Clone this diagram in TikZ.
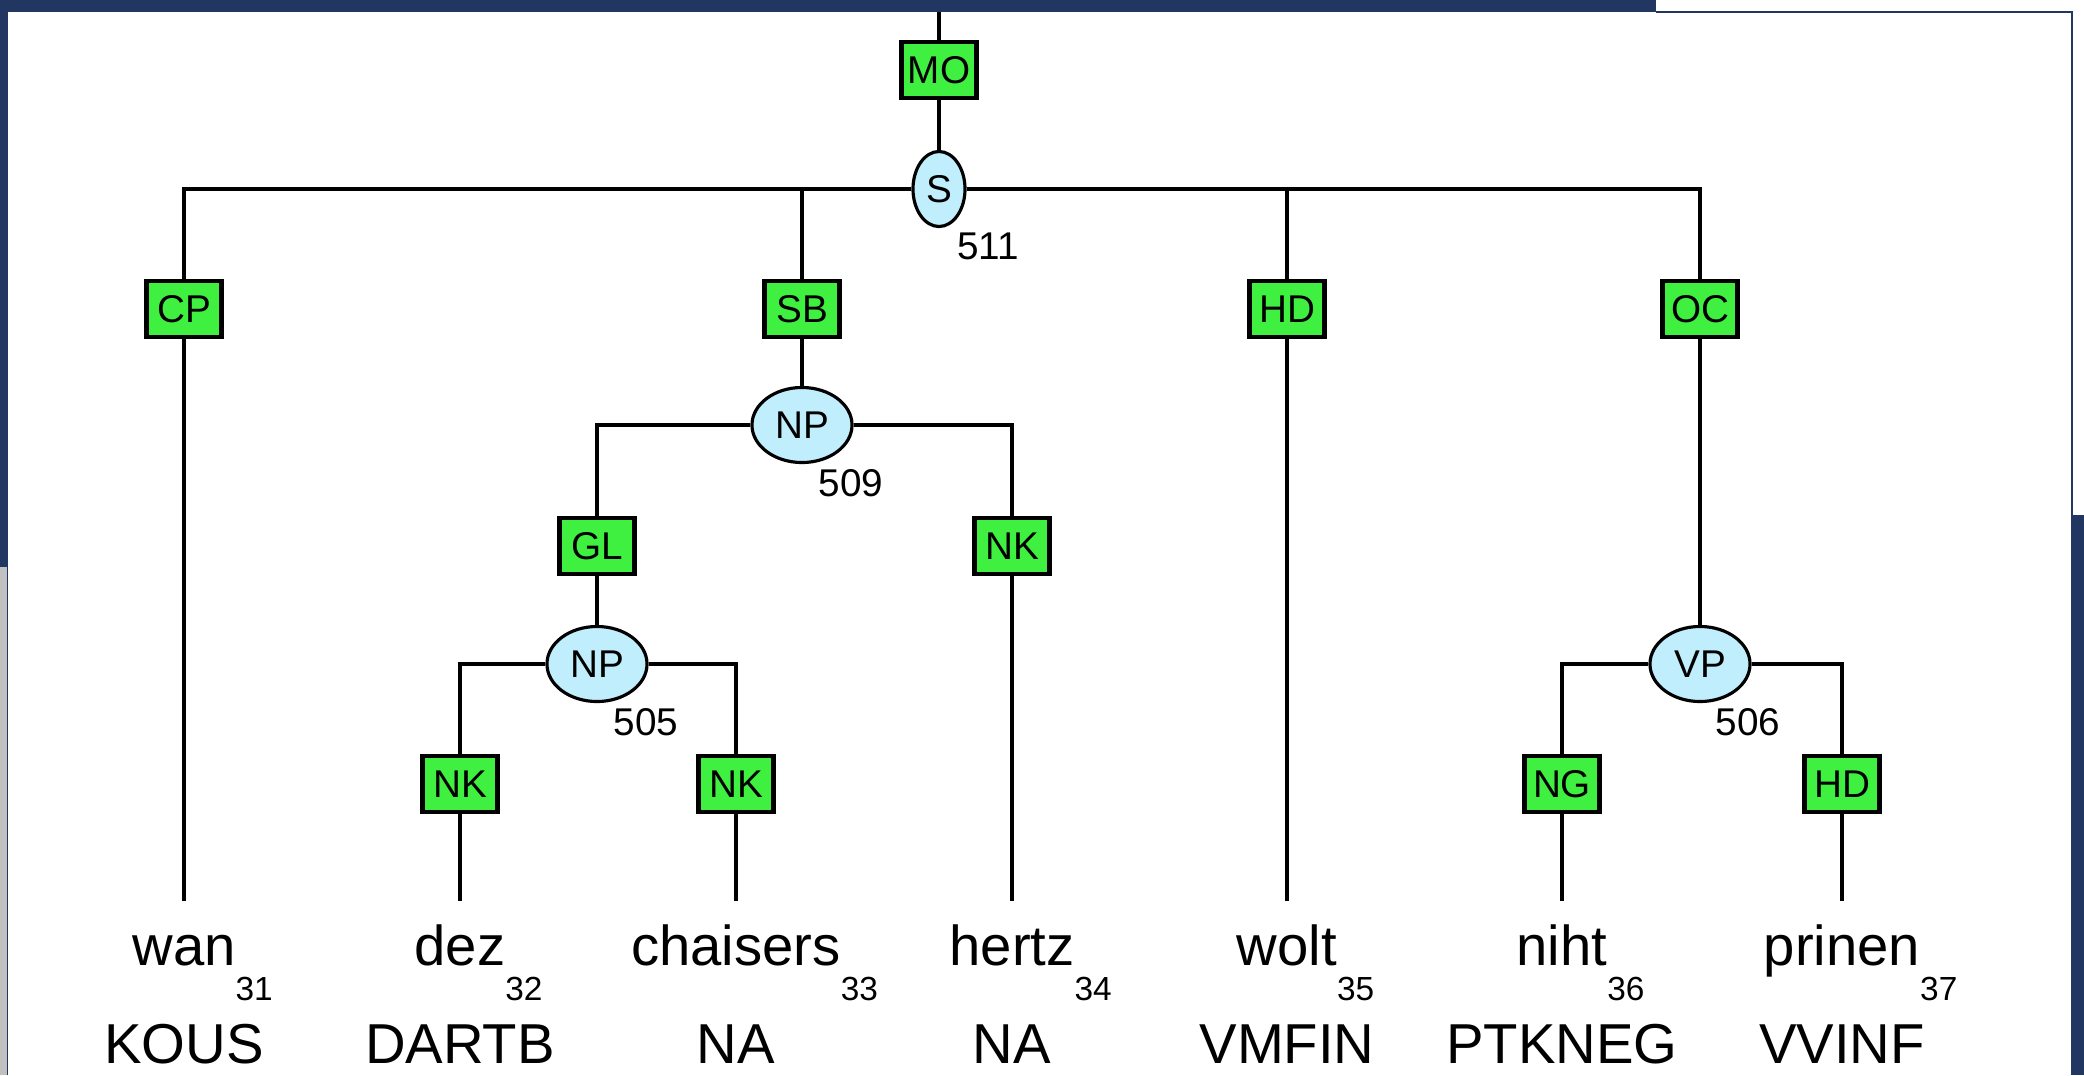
\documentclass[tikz,border=0pt]{standalone}
\usepackage{fontspec}
\setmainfont{Liberation Sans}
\usetikzlibrary{shapes.geometric}

\definecolor{framenavy}{RGB}{33,54,96}
\definecolor{labgreen}{RGB}{64,240,64}
\definecolor{catblue}{RGB}{192,238,252}
\definecolor{panelgray}{RGB}{192,192,192}

\newcommand{\wordidx}[1]{\rlap{\raisebox{-10pt}{\fontsize{9.5}{10}\selectfont #1}}}

\begin{document}
\begin{tikzpicture}[x=0.01cm, y=-0.01cm,
    edgelab/.style={rectangle, draw, line width=1.3pt, fill=labgreen, minimum width=0.75cm, minimum height=0.56cm, inner sep=0pt, font=\fontsize{11}{12}\selectfont},
    cat/.style={ellipse, draw, line width=0.9pt, fill=catblue, minimum width=1cm, minimum height=0.75cm, inner sep=0pt, font=\fontsize{11}{12}\selectfont},
    num/.style={inner sep=0pt, font=\fontsize{11}{12}\selectfont},
    word/.style={anchor=base, inner xsep=0pt, inner ysep=6.3pt, text height=11.7pt, font=\fontsize{16}{19}\selectfont},
    postag/.style={anchor=base, inner sep=0pt, font=\fontsize{16}{19}\selectfont},
    branch/.style={line width=1.15pt}]
    \useasboundingbox (0,0) rectangle (2084,1075);
    % Frame
    \fill[framenavy] (0,0) rectangle (2084,1075);
    \fill[white] (1656,0) rectangle (2084,12);
    \fill[white] (2072,0) rectangle (2084,515);
    \fill[panelgray] (0,567) rectangle (7,1075);
    \fill[white] (8,12) rectangle (2072,1075);
    \draw[framenavy, line width=0.6pt] (1656,12) -- (2072,12) -- (2072,1075);

    % Nodes
    \coordinate (top) at (939,12);
    \node (mo) [edgelab] at (939,70) {MO};
    \node (s) [cat, minimum width=0.52cm] at (939,189) {S};
    \node (n511) [num] at ([shift={(49,57)}]s.center) {511};

    \node (cp) [edgelab] at (184,309) {CP};
    \node (sb) [edgelab] at (802,309) {SB};
    \node (hda) [edgelab] at (1287,309) {HD};
    \node (oc) [edgelab] at (1700,309) {OC};

    \node (np509) [cat] at (802,425) {NP};
    \node (n509) [num] at ([shift={(49,58)}]np509.center) {509};
    \node (gl) [edgelab] at (597,546) {GL};
    \node (nkc) [edgelab] at (1012,546) {NK};

    \node (np505) [cat] at (597,664) {NP};
    \node (n505) [num] at ([shift={(49,58)}]np505.center) {505};
    \node (nka) [edgelab] at (460,784) {NK};
    \node (nkb) [edgelab] at (736,784) {NK};

    \node (vp506) [cat] at (1700,664) {VP};
    \node (n506) [num] at ([shift={(48,58)}]vp506.center) {506};
    \node (ng) [edgelab] at (1562,784) {NG};
    \node (hdb) [edgelab] at (1842,784) {HD};

    % Words
    \node (wan) [word] at (184,965) {wan\wordidx{31}};
    \node (dez) [word] at (460,965) {dez\wordidx{32}};
    \node (chaisers) [word] at (736,965) {chaisers\wordidx{33}};
    \node (hertz) [word] at (1012,965) {hertz\wordidx{34}};
    \node (wolt) [word] at (1287,965) {wolt\wordidx{35}};
    \node (niht) [word] at (1562,965) {niht\wordidx{36}};
    \node (prinen) [word] at (1842,965) {prinen\wordidx{37}};

    \node (kous) [postag] at (184,1063) {KOUS};
    \node (dartb) [postag] at (460,1063) {DARTB};
    \node (naa) [postag] at (736,1063) {NA};
    \node (nab) [postag] at (1012,1063) {NA};
    \node (vmfin) [postag] at (1287,1063) {VMFIN};
    \node (ptkneg) [postag] at (1562,1063) {PTKNEG};
    \node (vvinf) [postag] at (1842,1063) {VVINF};

    % Branches
    \draw[branch] (top) -- (mo);
    \draw[branch] (mo) -- (s);
    \draw[branch] (s.west) -| (cp);
    \draw[branch] (s.west) -| (sb);
    \draw[branch] (s.east) -| (hda);
    \draw[branch] (s.east) -| (oc);
    \draw[branch] (sb) -- (np509);
    \draw[branch] (np509.west) -| (gl);
    \draw[branch] (np509.east) -| (nkc);
    \draw[branch] (gl) -- (np505);
    \draw[branch] (np505.west) -| (nka);
    \draw[branch] (np505.east) -| (nkb);
    \draw[branch] (oc) -- (vp506);
    \draw[branch] (vp506.west) -| (ng);
    \draw[branch] (vp506.east) -| (hdb);
    \draw[branch] (cp) -- (wan);
    \draw[branch] (nka) -- (dez);
    \draw[branch] (nkb) -- (chaisers);
    \draw[branch] (nkc) -- (hertz);
    \draw[branch] (hda) -- (wolt);
    \draw[branch] (ng) -- (niht);
    \draw[branch] (hdb) -- (prinen);
\end{tikzpicture}
\end{document}
